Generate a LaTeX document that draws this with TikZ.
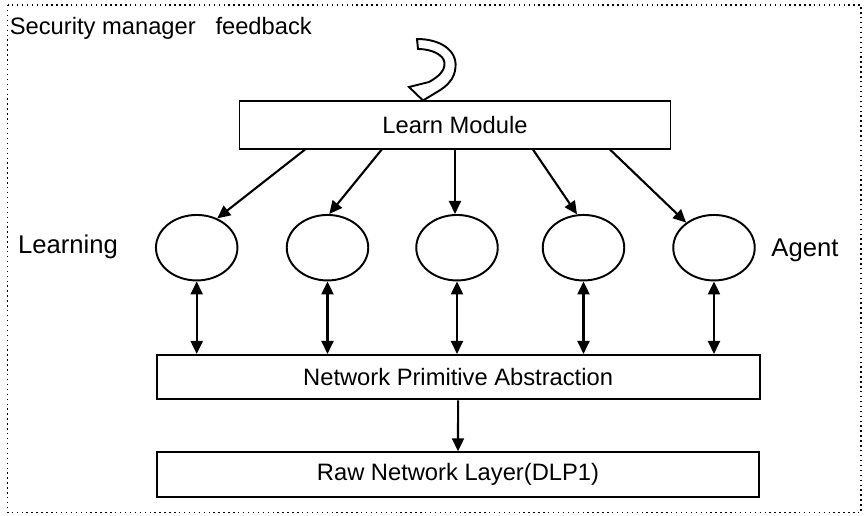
\documentclass[tikz,border=0pt]{standalone}
\usepackage{fontspec}
\setmainfont{Liberation Sans}
\usetikzlibrary{arrows.meta,shapes.geometric,calc}

\begin{document}
\begin{tikzpicture}[scale=0.2]
\tikzstyle{every node}+=[inner sep=0pt, font=\fontsize{13.5}{16}\selectfont]
\tikzstyle{box}=[draw=black, line width=1.1pt, rectangle, minimum height=0.89cm]
\tikzstyle{agent}=[draw=black, line width=1.1pt, ellipse, minimum width=1.63cm, minimum height=1.31cm]
\tikzstyle{side}=[font=\fontsize{14.6}{17}\selectfont]
\tikzstyle{arr}=[black, line width=1.2pt, -{Triangle[length=0.26cm,width=0.24cm]}]
\tikzstyle{darr}=[black, line width=1.2pt, {Triangle[length=0.26cm,width=0.24cm]}-{Triangle[length=0.26cm,width=0.24cm]}]
\useasboundingbox (0,0) rectangle (86.4,-51.6);
\draw [black, dotted, line width=0.8pt] (0.75,-0.5) rectangle (86.1,-51.25);
\draw (0.95,-2.8) node [anchor=west] (title) {Security manager\ \ \ feedback};
\draw (45.5,-12.46) node [box, minimum width=8.62cm, minimum height=0.96cm] (lm) {Learn Module};
\draw (19.67,-24.77) node [agent] (a1) {};
\draw (32.75,-24.77) node [agent] (a2) {};
\draw (45.7,-24.77) node [agent] (a3) {};
\draw (58.35,-24.77) node [agent] (a4) {};
\draw (71.4,-24.77) node [agent] (a5) {};
\draw (6.8,-24.7) node [side] (learning) {Learning};
\draw (80.5,-25.0) node [side] (agentlbl) {Agent};
\draw (45.81,-37.72) node [box, minimum width=12.06cm] (npa) {Network Primitive Abstraction};
\draw (45.8,-47.45) node [box, minimum width=12.05cm] (rnl) {Raw Network Layer(DLP1)};
% feedback arrow
\draw [black, line width=1.1pt, fill=white, line join=miter] (41.7,-3.9) .. controls (44.0,-3.9) and (45.7,-5.0) .. (45.55,-6.7)
  .. controls (45.5,-7.9) and (44.6,-8.7) .. (43.7,-9.2) -- (42.3,-10.05) -- (40.9,-8.7) -- (42.9,-8.2)
  .. controls (43.8,-7.7) and (44.5,-7.1) .. (44.45,-6.3) .. controls (44.4,-5.5) and (43.2,-4.9) .. (41.8,-4.9) -- cycle;
% learn module to agents
\draw [arr] ($(lm.south)+(-15,0)$) -- (a1.55);
\draw [arr] ($(lm.south)+(-7.33,0)$) -- (a2.87);
\draw [arr] (lm.south) -- (lm.south |- a3.north);
\draw [arr] ($(lm.south)+(7.8,0)$) -- (a4.101);
\draw [arr] ($(lm.south)+(15.5,0)$) -- (a5.138);
% agents to abstraction
\draw [darr] (a1.south) -- (a1.south |- npa.north);
\draw [darr] (a2.south) -- (a2.south |- npa.north);
\draw [darr] (a3.south) -- (a3.south |- npa.north);
\draw [darr] (a4.south) -- (a4.south |- npa.north);
\draw [darr] (a5.south) -- (a5.south |- npa.north);
\draw [arr] (npa.south) -- (rnl.north);
\end{tikzpicture}
\end{document}
